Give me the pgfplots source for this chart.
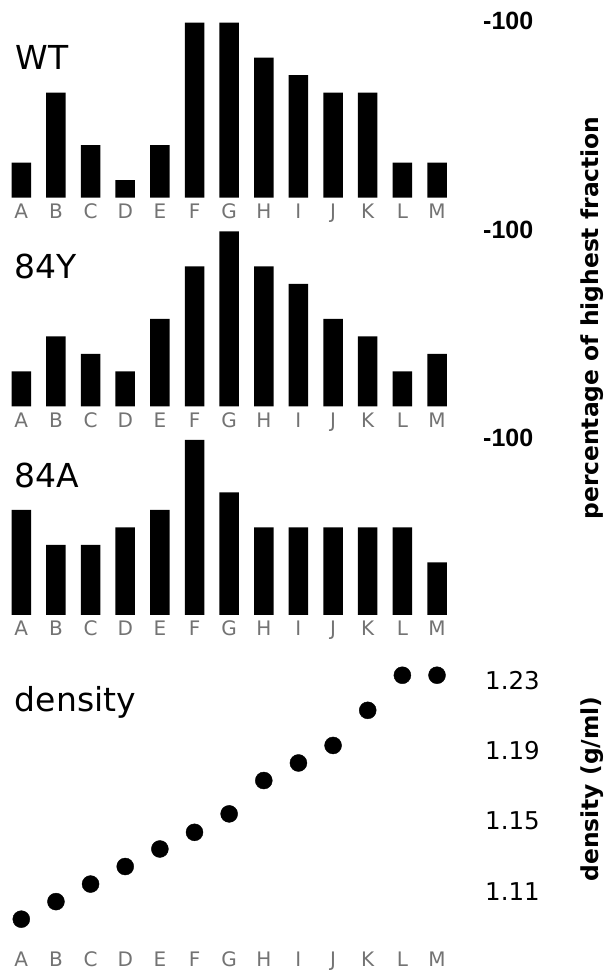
\documentclass[border=0pt]{standalone}
\usepackage{fontspec}
\setmainfont{DejaVu Sans}
\newfontfamily\helv{Liberation Sans}
\usepackage{pgfplots}
\pgfplotsset{compat=1.18}
\usepackage{pgfplotstable}

\pgfplotstableread{
x wt y84 a84
0 20 20 60
1 60 40 40
2 30 30 40
3 10 20 50
4 30 50 60
5 100 80 100
6 100 100 70
7 80 80 50
8 70 70 50
9 60 50 50
10 60 40 50
11 20 20 50
12 20 30 30
}\bars

\pgfplotstableread{
x d
0 1.094
1 1.104
2 1.114
3 1.124
4 1.134
5 1.1435
6 1.154
7 1.173
8 1.183
9 1.193
10 1.213
11 1.233
12 1.233
}\dens

\definecolor{ticklab}{gray}{0.45}

\pgfplotsset{
  panel/.style={
    scale only axis,
    anchor=south west,
    width=457.3pt,
    xmin=-0.6, xmax=12.6,
    axis line style={draw=none},
    major tick length=0pt,
    tick style={draw=none},
    xtick={0,...,12},
    xticklabels={A,B,C,D,E,F,G,H,I,J,K,L,M},
    xticklabel style={anchor=base, inner sep=0pt, text=ticklab,
      font=\fontsize{20}{24}\selectfont},
    yticklabel pos=right,
    clip=false,
  },
  barpanel/.style={
    panel,
    height=175pt,
    ymin=0, ymax=100,
    ytick={100}, yticklabels={-100},
    yticklabel style={anchor=west, inner sep=0pt, xshift=25.2pt, yshift=2pt,
      font=\helv\fontsize{25}{28}\selectfont\bfseries},
    xticklabel style={yshift=-21pt},
  },
}

\begin{document}
\begin{tikzpicture}[x=1pt,y=1pt]
\path[use as bounding box] (0,0) rectangle (608,972);

% WT
\begin{axis}[barpanel, at={(0.5pt,774.3pt)}]
\addplot[ybar, bar width=19.5pt, fill=black, draw=none] table[x=x,y=wt] {\bars};
\end{axis}

% 84Y
\begin{axis}[barpanel, at={(0.5pt,565.5pt)}]
\addplot[ybar, bar width=19.5pt, fill=black, draw=none] table[x=x,y=y84] {\bars};
\end{axis}

% 84A
\begin{axis}[barpanel, at={(0.5pt,357pt)}]
\addplot[ybar, bar width=19.5pt, fill=black, draw=none] table[x=x,y=a84] {\bars};
\end{axis}

% density
\begin{axis}[panel, at={(0.5pt,28.25pt)}, height=298.35pt,
  ymin=1.08, ymax=1.25,
  ytick={1.11,1.15,1.19,1.23},
  yticklabels={1.11,1.15,1.19,1.23},
  yticklabel style={anchor=west, inner sep=0pt, xshift=27.2pt,
    font=\fontsize{24.5}{28}\selectfont},
  xticklabel style={yshift=-22.3pt},
]
\addplot[only marks, mark=*, mark size=8.5pt, mark options={fill=black, draw=none}] table[x=x,y=d] {\dens};
\end{axis}

% panel labels
\node[anchor=west, inner sep=0pt, font=\fontsize{33}{40}\selectfont] at (15.5,915) {WT};
\node[anchor=west, inner sep=0pt, font=\fontsize{33}{40}\selectfont] at (14.7,706) {84Y};
\node[anchor=west, inner sep=0pt, font=\fontsize{33}{40}\selectfont] at (14.7,497) {84A};
\node[anchor=base west, inner sep=0pt, font=\fontsize{33}{40}\selectfont] at (14.7,260.3) {density};

% right axis titles
\node[rotate=90, inner sep=0pt, font=\fontsize{23.4}{28}\selectfont\bfseries] at (592,654) {percentage of highest fraction};
\node[rotate=90, inner sep=0pt, font=\fontsize{23.4}{28}\selectfont\bfseries] at (592,183) {density (g/ml)};
\end{tikzpicture}
\end{document}
